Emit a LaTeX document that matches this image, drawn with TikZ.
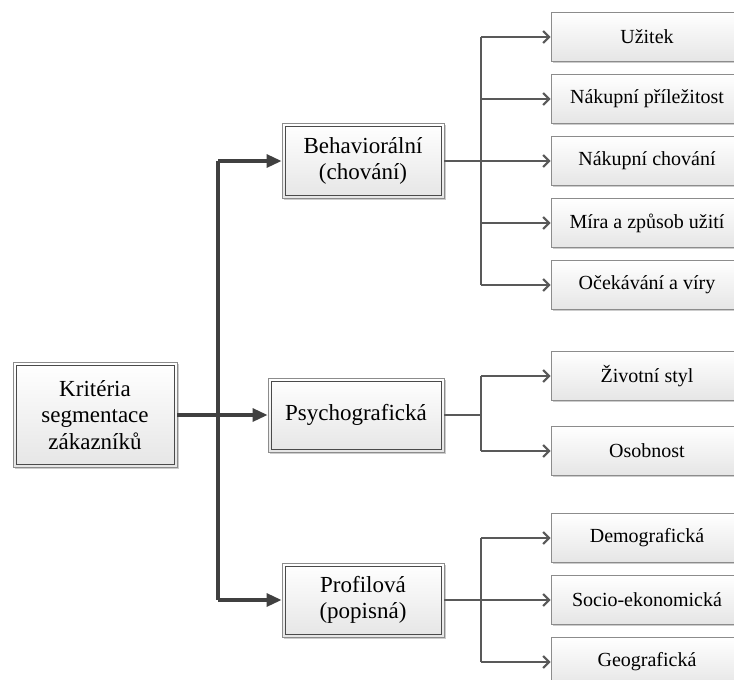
\documentclass[tikz,border=0pt]{standalone}
\usepackage{fontspec}
\setmainfont{Liberation Serif}
\usetikzlibrary{arrows.meta,shadows}

\definecolor{linedark}{HTML}{404040}
\definecolor{linemid}{HTML}{595959}
\definecolor{boxedge}{HTML}{8C8C8C}
\definecolor{boxinner}{HTML}{4A4A4A}

\tikzset{
  basebox/.style={
    top color=white, bottom color=black!10,
    drop shadow={shadow xshift=1.5pt, shadow yshift=-1.5pt, fill=black, opacity=0.2},
    align=center, inner sep=0pt, text=black},
  mainbox/.style={basebox, draw=boxedge, line width=0.9pt,
    font=\fontsize{23}{26.5}\selectfont,
    path picture={\draw[boxinner, line width=0.9pt]
      ([shift={(3pt,-3pt)}]path picture bounding box.north west) rectangle
      ([shift={(-3pt,3pt)}]path picture bounding box.south east);}},
  leafbox/.style={basebox, draw=boxedge, line width=0.9pt,
    minimum width=192pt, minimum height=49pt,
    font=\fontsize{20}{24}\selectfont},
  trunk/.style={draw=linedark, line width=3.2pt},
  trunkarrow/.style={trunk, -{Triangle[length=15pt,width=13pt]}},
  branch/.style={draw=linemid, line width=2.6pt},
  leafarrow/.style={draw=linemid, line width=2pt,
    -{Straight Barb[length=6pt,width=12pt,line width=2pt]}},
}

\begin{document}
\begin{tikzpicture}[x=1pt,y=-1pt]
\clip (0,0) rectangle (734,680);
\fill[white] (0,0) rectangle (734,680);

% first level
\node[mainbox, minimum width=164pt, minimum height=105pt] (root) at (95,415) {Kritéria\\segmentace\\zákazníků};
\node[mainbox, minimum width=162pt, minimum height=75pt] (beh) at (363,161) {Behaviorální\\(chování)};
\node[mainbox, minimum width=176pt, minimum height=74pt] (psy) at (356,415) {Psychografická};
\node[mainbox, minimum width=162pt, minimum height=74pt] (pro) at (363,600) {Profilová\\(popisná)};

% leaves
\node[leafbox] (b1) at (647,37)  {Užitek};
\node[leafbox] (b2) at (647,99)  {Nákupní příležitost};
\node[leafbox] (b3) at (647,161) {Nákupní chování};
\node[leafbox] (b4) at (647,223) {Míra a způsob užití};
\node[leafbox] (b5) at (647,285) {Očekávání a víry};
\node[leafbox] (s1) at (647,376) {Životní styl};
\node[leafbox] (s2) at (647,451) {Osobnost};
\node[leafbox] (p1) at (647,538) {Demografická};
\node[leafbox] (p2) at (647,600) {Socio-ekonomická};
\node[leafbox] (p3) at (647,662) {Geografická};

% trunk from the root box
\coordinate (tj) at (218,415);
\draw[trunk] (tj |- beh.west) -- (tj |- pro.west);
\draw[trunkarrow] (root.east) -- (psy.west);
\draw[trunkarrow] (tj |- beh.west) -- (beh.west);
\draw[trunkarrow] (tj |- pro.west) -- (pro.west);

% branches to the leaves
\coordinate (bj) at (481,0);
\draw[branch] (beh.east) -- (beh.east -| bj);
\draw[branch] (psy.east) -- (psy.east -| bj);
\draw[branch] (pro.east) -- (pro.east -| bj);
\draw[branch] (bj |- b1.west) -- (bj |- b5.west);
\draw[branch] (bj |- s1.west) -- (bj |- s2.west);
\draw[branch] (bj |- p1.west) -- (bj |- p3.west);
\foreach \n in {b1,b2,b3,b4,b5,s1,s2,p1,p2,p3}
  \draw[leafarrow] (bj |- \n.west) -- (\n.west);
\end{tikzpicture}
\end{document}
